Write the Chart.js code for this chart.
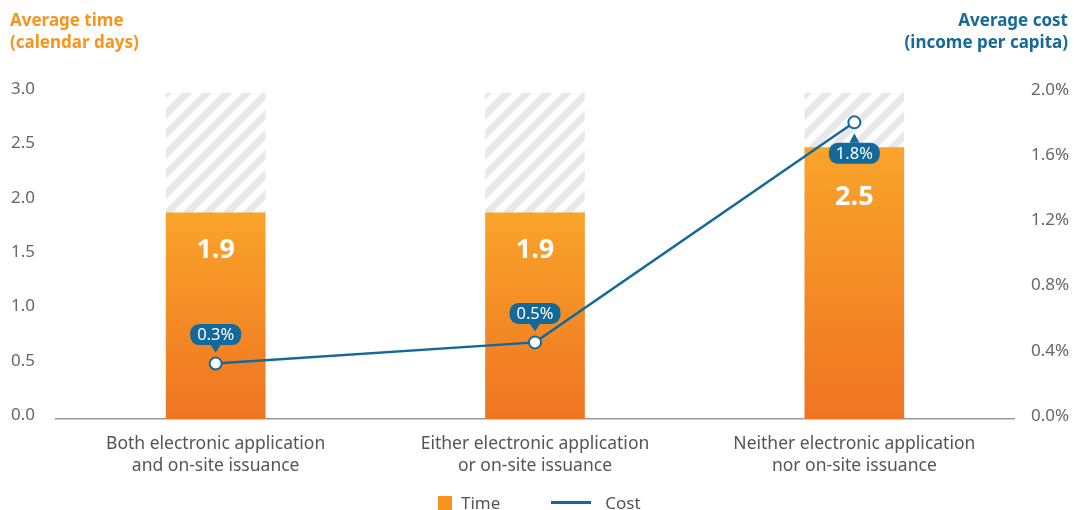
<!DOCTYPE html>
<html>
<head>
<meta charset="utf-8">
<script src="https://cdn.jsdelivr.net/npm/chart.js@4"></script>
<style>
  html, body { margin: 0; padding: 0; background: #fff; }
  #wrap { position: relative; width: 1074px; height: 510px; font-family: "Noto Sans", sans-serif; }
  #chart { position: absolute; left: 0; top: 0; }
  .title { position: absolute; top: 9px; font-weight: bold; font-size: 17px; line-height: 22px; }
  #title-left { left: 10px; color: #F7941D; }
  #title-right { right: 6px; color: #156A98; text-align: right; }
  #legend { position: absolute; left: 438px; top: 491px; display: flex; align-items: center; font-size: 17px; color: #555; }
  .sw-box { width: 14px; height: 14px; background: #F7941D; margin-right: 9px; }
  .sw-line { width: 40px; height: 3px; background: #12699A; margin-left: 51px; margin-right: 14px; }
</style>
</head>
<body>
<div id="wrap">
  <canvas id="chart" width="1074" height="510"></canvas>
  <div class="title" id="title-left">Average time<br>(calendar days)</div>
  <div class="title" id="title-right">Average cost<br>(income per capita)</div>
  <div id="legend">
    <div class="sw-box"></div><span>Time</span>
    <div class="sw-line"></div><span>Cost</span>
  </div>
</div>
<script>
const categories = [
  ['Both electronic application', 'and on-site issuance'],
  ['Either electronic application', 'or on-site issuance'],
  ['Neither electronic application', 'nor on-site issuance']
];
const timeDays = [1.9, 1.9, 2.5];
const costPct = [0.34, 0.47, 1.82];
const timeMax = [3.0, 3.0, 3.0];
const timeTicks = [0, 0.5, 1.0, 1.5, 2.0, 2.5, 3.0];
const costTicks = [0, 0.4, 0.8, 1.2, 1.6, 2.0];
const costLabelBelow = [false, false, true];

const BLUE = '#12699A';
const FONT = '"Noto Sans", sans-serif';

function makeHatch() {
  const c = document.createElement('canvas');
  c.width = 20; c.height = 20;
  const g = c.getContext('2d');
  g.fillStyle = '#fff';
  g.fillRect(0, 0, 20, 20);
  g.strokeStyle = '#e8e8e8';
  g.lineWidth = 7;
  g.beginPath();
  g.moveTo(-5, 25); g.lineTo(25, -5);
  g.moveTo(-5, 5); g.lineTo(5, -5);
  g.moveTo(15, 25); g.lineTo(25, 15);
  g.stroke();
  return g.createPattern(c, 'repeat');
}

function barGradient(ctx) {
  const chart = ctx.chart;
  if (!chart.chartArea || ctx.raw == null) return '#F5901F';
  const y = chart.scales.y;
  const top = y.getPixelForValue(ctx.raw);
  const bottom = y.getPixelForValue(0);
  const grad = chart.ctx.createLinearGradient(0, top, 0, bottom);
  grad.addColorStop(0, '#F9A42A');
  grad.addColorStop(1, '#EF7422');
  return grad;
}

// white value text inside bars + bubbles on line points
const labelsPlugin = {
  id: 'labels',
  afterDatasetsDraw(chart) {
    const ctx = chart.ctx;
    const barMeta = chart.getDatasetMeta(1);
    ctx.save();
    ctx.fillStyle = '#fff';
    ctx.font = 'bold 27px ' + FONT;
    ctx.textAlign = 'center';
    ctx.textBaseline = 'middle';
    barMeta.data.forEach((bar, i) => {
      ctx.fillText(timeDays[i].toFixed(1), bar.x, bar.y + (bar.base - bar.y) * 0.185);
    });

    const lineMeta = chart.getDatasetMeta(0);
    ctx.font = '16.5px ' + FONT;
    lineMeta.data.forEach((pt, i) => {
      const text = costPct[i].toFixed(1) + '%';
      const w = ctx.measureText(text).width + 14;
      const h = 21;
      const below = costLabelBelow[i];
      const cy = below ? pt.y + 31 : pt.y - 29;
      const tipY = below ? pt.y + 11 : pt.y - 11;
      const edgeY = below ? cy - h / 2 : cy + h / 2;
      ctx.fillStyle = BLUE;
      ctx.beginPath();
      ctx.roundRect(pt.x - w / 2, cy - h / 2, w, h, 9);
      ctx.fill();
      ctx.beginPath();
      ctx.moveTo(pt.x - 5, edgeY);
      ctx.lineTo(pt.x, tipY);
      ctx.lineTo(pt.x + 5, edgeY);
      ctx.closePath();
      ctx.fill();
      ctx.fillStyle = '#fff';
      ctx.fillText(text, pt.x, cy + 1);
    });
    ctx.restore();
  }
};

new Chart(document.getElementById('chart'), {
  type: 'bar',
  data: {
    labels: categories,
    datasets: [
      {
        type: 'line',
        label: 'Cost',
        data: costPct,
        yAxisID: 'y1',
        borderColor: BLUE,
        borderWidth: 2.5,
        pointRadius: 6,
        pointBorderWidth: 2,
        pointBackgroundColor: '#fff',
        pointBorderColor: BLUE,
        order: 0
      },
      {
        label: 'Time',
        data: timeDays,
        yAxisID: 'y',
        backgroundColor: barGradient,
        grouped: false,
        categoryPercentage: 1,
        barPercentage: 0.312,
        order: 1
      },
      {
        label: 'Max',
        data: timeMax,
        yAxisID: 'y',
        backgroundColor: makeHatch(),
        grouped: false,
        categoryPercentage: 1,
        barPercentage: 0.312,
        order: 2
      }
    ]
  },
  options: {
    responsive: false,
    animation: false,
    layout: { padding: { top: 93, left: 0, right: 0, bottom: 0 } },
    plugins: {
      legend: { display: false },
      tooltip: { enabled: false }
    },
    scales: {
      x: {
        grid: { display: false, drawTicks: false },
        border: { display: true, color: '#999', width: 1.5 },
        ticks: { color: '#555', font: { family: FONT, size: 17.5, lineHeight: '22px' }, padding: 14 },
        afterFit(scale) { scale.height = 91; }
      },
      y: {
        position: 'left',
        min: 0,
        max: 3.0,
        afterBuildTicks(scale) { scale.ticks = timeTicks.map(v => ({ value: v })); },
        grid: { display: false, drawTicks: false },
        border: { display: false },
        ticks: {
          color: '#666',
          font: { family: FONT, size: 17 },
          padding: 21,
          labelOffset: -4,
          callback: v => v.toFixed(1)
        },
        afterFit(scale) { scale.width = 56; }
      },
      y1: {
        position: 'right',
        min: 0,
        max: 2.0,
        afterBuildTicks(scale) { scale.ticks = costTicks.map(v => ({ value: v })); },
        grid: { display: false, drawTicks: false },
        border: { display: false },
        ticks: {
          color: '#666',
          font: { family: FONT, size: 17 },
          padding: 17,
          labelOffset: -3,
          callback: v => v.toFixed(1) + '%'
        },
        afterFit(scale) { scale.width = 60; }
      }
    }
  },
  plugins: [labelsPlugin]
});
</script>
</body>
</html>
